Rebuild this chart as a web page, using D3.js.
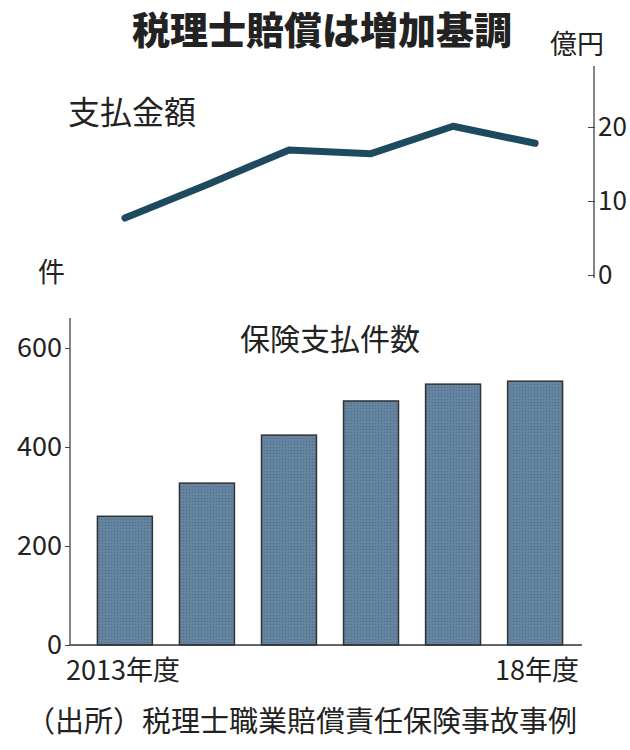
<!DOCTYPE html>
<html><head><meta charset="utf-8">
<script src="https://cdn.jsdelivr.net/npm/d3@7"></script>
<style>
body{margin:0;background:#fff;}
text{font-family:"Noto Sans CJK JP",sans-serif;fill:#222;}
.num{font-family:"Liberation Sans Narrow","Noto Sans CJK JP",sans-serif;}
</style></head>
<body><svg id="c" width="630" height="750"></svg>
<script>
var years = ["2013年度","14","15","16","17","18年度"];
var amounts = [7.7, 12.2, 16.9, 16.4, 20.1, 17.8];   // 億円
var counts = [260, 327, 424, 493, 527, 533];          // 件
var amountTicks = [0, 10, 20];
var countTicks = [0, 200, 400, 600];

var svg = d3.select("#c");

// pattern for bars, roughly the dotted print texture
var pat = svg.append("defs").append("pattern")
    .attr("id","dots").attr("width",3).attr("height",3).attr("patternUnits","userSpaceOnUse");
pat.append("rect").attr("width",3).attr("height",3).attr("fill","#6584a0");
pat.append("rect").attr("width",1).attr("height",1).attr("fill","#4c6a85");

svg.append("text").attr("x",322).attr("y",44).attr("text-anchor","middle")
    .attr("font-size",38).attr("font-weight","900").text("税理士賠償は増加基調");

var x = d3.scaleBand().domain(years).range([81,579]).paddingInner(0.33).paddingOuter(0.2);

// top: line chart
var yTop = d3.scaleLinear().domain([0,25]).range([275,90]);
var axT = svg.append("g").attr("transform","translate(594,0)")
    .call(d3.axisLeft(yTop).tickValues(amountTicks).tickSize(6).tickFormat(""));
axT.select(".domain").remove();
axT.selectAll(".tick line").attr("x2",-6).attr("x1",1).attr("stroke","#444");
svg.append("line").attr("x1",594).attr("x2",594).attr("y1",66).attr("y2",278)
    .attr("stroke","#444").attr("stroke-width",1.3);
svg.selectAll(".at").data(amountTicks).enter().append("text").attr("class","num")
    .attr("x",598).attr("y",function(d){return yTop(d)+9;}).attr("font-size",26).text(function(d){return d;});
svg.append("text").attr("x",550).attr("y",54).attr("font-size",27).text("億円");
svg.append("text").attr("x",68).attr("y",124).attr("font-size",32).text("支払金額");

svg.append("path").datum(amounts)
    .attr("d", d3.line().x(function(d,i){return x(years[i])+x.bandwidth()/2;}).y(function(d){return yTop(d);}))
    .attr("fill","none").attr("stroke","#1d4a5e").attr("stroke-width",7).attr("stroke-linecap","round").attr("stroke-linejoin","round");

// bottom: bar chart
var yBot = d3.scaleLinear().domain([0,600]).range([645,348]);
svg.append("text").attr("x",38).attr("y",282).attr("font-size",27).text("件");
svg.append("text").attr("x",330).attr("y",350).attr("text-anchor","middle").attr("font-size",30).text("保険支払件数");

svg.selectAll(".bar").data(counts).enter().append("rect")
    .attr("x",function(d,i){return x(years[i]);}).attr("width",x.bandwidth())
    .attr("y",function(d){return yBot(d);}).attr("height",function(d){return yBot(0)-yBot(d);})
    .attr("fill","url(#dots)").attr("stroke","#333").attr("stroke-width",1.5);

var axB = svg.append("g").attr("transform","translate(70,0)")
    .call(d3.axisLeft(yBot).tickValues(countTicks).tickSize(5).tickFormat(""));
axB.select(".domain").remove();
axB.selectAll(".tick line").attr("stroke","#444");
svg.append("line").attr("x1",70).attr("x2",70).attr("y1",318).attr("y2",645).attr("stroke","#444").attr("stroke-width",1.3);
svg.append("line").attr("x1",70).attr("x2",582).attr("y1",645).attr("y2",645).attr("stroke","#333").attr("stroke-width",1.5);
svg.selectAll(".bt").data(countTicks).enter().append("text").attr("class","num")
    .attr("x",62).attr("y",function(d){return yBot(d)+9;}).attr("text-anchor","end").attr("font-size",27)
    .text(function(d){return d;});

svg.append("text").attr("class","num").attr("x",66).attr("y",680).attr("font-size",27).text(years[0]);
svg.append("text").attr("class","num").attr("x",579).attr("y",680).attr("text-anchor","end").attr("font-size",27).text(years[5]);

svg.append("text").attr("x",26).attr("y",732).attr("font-size",29).text("（出所）税理士職業賠償責任保険事故事例");
</script></body></html>
